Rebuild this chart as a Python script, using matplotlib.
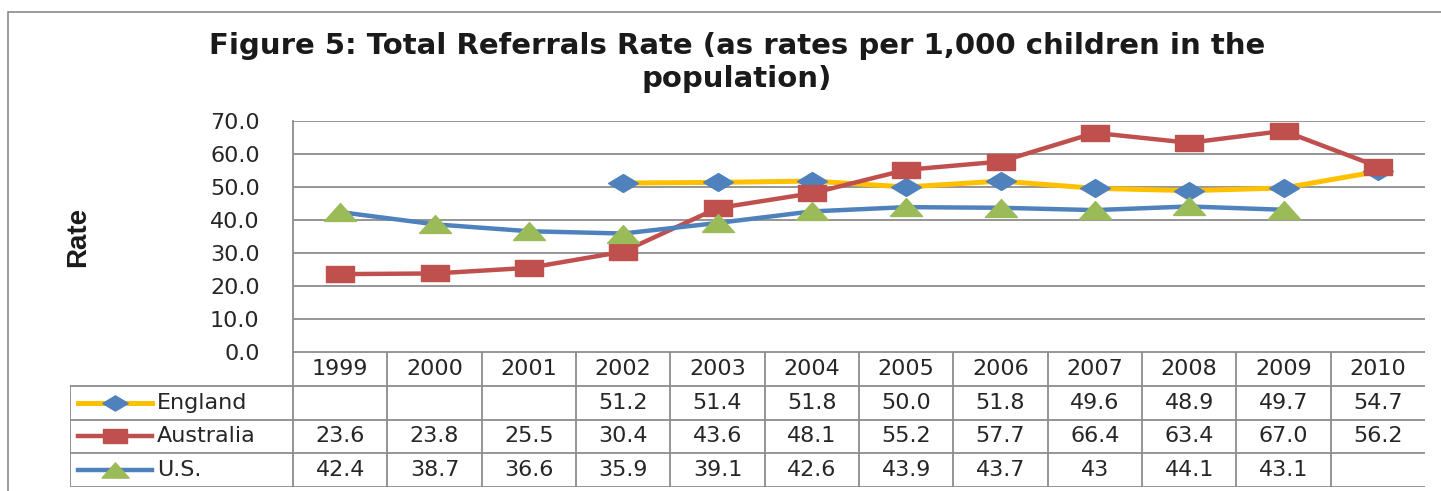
import matplotlib
matplotlib.use("Agg")
import matplotlib.pyplot as plt
import numpy as np

# ---- data ----
years = [1999, 2000, 2001, 2002, 2003, 2004, 2005, 2006, 2007, 2008, 2009, 2010]
england = [np.nan, np.nan, np.nan, 51.2, 51.4, 51.8, 50.0, 51.8, 49.6, 48.9, 49.7, 54.7]
australia = [23.6, 23.8, 25.5, 30.4, 43.6, 48.1, 55.2, 57.7, 66.4, 63.4, 67.0, 56.2]
us = [42.4, 38.7, 36.6, 35.9, 39.1, 42.6, 43.9, 43.7, 43, 44.1, 43.1, np.nan]
us_text = ["42.4", "38.7", "36.6", "35.9", "39.1", "42.6", "43.9", "43.7", "43", "44.1", "43.1", ""]
series_names = ["England", "Australia", "U.S."]
y_ticks = [0, 10, 20, 30, 40, 50, 60, 70]

# ---- layout (pixels of a 1441x491 canvas) ----
W, H = 1441, 491
PLOT_L, PLOT_R, PLOT_T, PLOT_B = 293, 1425, 121, 352
TABLE_L, TABLE_B = 70, 487
GRID = "#8c8c8c"
TEXT = "#262626"
FS = 16

# wide, flat markers like the stretched Excel picture
square = [(-1, -0.6), (1, -0.6), (1, 0.6), (-1, 0.6), (-1, -0.6)]
diamond = [(0, -0.6), (1, 0), (0, 0.6), (-1, 0), (0, -0.6)]
triangle = [(-1, -0.56), (1, -0.56), (0, 0.56), (-1, -0.56)]

styles = [
    dict(color="#FFC000", lw=3.6, marker=diamond, ms=21.5, mfc="#4F81BD", mec="#4F81BD"),
    dict(color="#C0504D", lw=3.2, marker=square, ms=20, mfc="#C0504D", mec="#C0504D"),
    dict(color="#4F81BD", lw=3.2, marker=triangle, ms=23, mfc="#9BBB59", mec="#9BBB59"),
]

fig = plt.figure(figsize=(W / 100, H / 100), dpi=100)

# outer chart frame (bottom/right run off the canvas)
fig.patches.append(plt.Rectangle((8 / W, -0.1), 1.2, (H - 12) / H + 0.1,
                                 transform=fig.transFigure, fill=False,
                                 edgecolor="#8a8a8a", lw=1.2))

fig.text(737 / W, 1 - 46 / H, "Figure 5: Total Referrals Rate (as rates per 1,000 children in the",
         ha="center", va="center", fontsize=21, fontweight="bold", color="#1a1a1a")
fig.text(737 / W, 1 - 79 / H, "population)",
         ha="center", va="center", fontsize=21, fontweight="bold", color="#1a1a1a")

ax = fig.add_axes([PLOT_L / W, 1 - PLOT_B / H, (PLOT_R - PLOT_L) / W, (PLOT_B - PLOT_T) / H])
x = np.arange(len(years))
for vals, st in zip([england, australia, us], styles):
    ax.plot(x, vals, solid_joinstyle="round", **st, clip_on=False, zorder=3)

ax.set_xlim(-0.5, len(years) - 0.5)
ax.set_ylim(0, 70)
ax.set_yticks(y_ticks)
ax.set_yticklabels([f"{v:.1f}" for v in y_ticks], fontsize=FS, color=TEXT)
ax.tick_params(axis="y", length=0, pad=24)
ax.set_xticks([])
for v in y_ticks:
    ax.axhline(v, color=GRID, lw=1.3, zorder=1)
for s in ["top", "right", "bottom"]:
    ax.spines[s].set_visible(False)
ax.spines["left"].set_color(GRID)
ax.spines["left"].set_linewidth(1.3)

fig.text(78 / W, 1 - 237 / H, "Rate", rotation=90, ha="center", va="center",
         fontsize=20, fontweight="bold", color="#1a1a1a",
         family=["Liberation Sans Narrow", "Liberation Sans", "DejaVu Sans"])

# ---- data table under the plot ----
px = (PLOT_R - PLOT_L) / len(years)          # pixels per category
left_x = -0.5 - (PLOT_L - TABLE_L) / px
tab = fig.add_axes([TABLE_L / W, 1 - TABLE_B / H, (PLOT_R - TABLE_L) / W, (TABLE_B - PLOT_B) / H])
tab.set_xlim(left_x, len(years) - 0.5)
tab.set_ylim(0, 4)
tab.axis("off")

for yy in [0, 1, 2, 3]:
    tab.plot([left_x, len(years) - 0.5], [yy, yy], color=GRID, lw=1.3)
tab.plot([-0.5, len(years) - 0.5], [4, 4], color=GRID, lw=1.3)
tab.plot([left_x, left_x], [0, 3], color=GRID, lw=1.3)
for k in range(len(years)):
    tab.plot([k - 0.5, k - 0.5], [0, 4], color=GRID, lw=1.3)

for i, yr in enumerate(years):
    tab.text(i, 3.5, str(yr), ha="center", va="center", fontsize=FS, color=TEXT)

rows = [
    [("" if np.isnan(v) else f"{v:.1f}") for v in england],
    [f"{v:.1f}" for v in australia],
    us_text,
]
line_x0 = -0.5 - (PLOT_L - 78) / px
line_x1 = -0.5 - (PLOT_L - 152) / px
mark_x = -0.5 - (PLOT_L - 115) / px
name_x = -0.5 - (PLOT_L - 157) / px
for r, (name, cells, st) in enumerate(zip(series_names, rows, styles)):
    yc = 2.5 - r
    tab.plot([line_x0, line_x1], [yc, yc], color=st["color"], lw=st["lw"])
    tab.plot([mark_x], [yc], ls="none", marker=st["marker"], ms=st["ms"] * 0.85,
             mfc=st["mfc"], mec=st["mec"])
    tab.text(name_x, yc, name, ha="left", va="center", fontsize=FS, color=TEXT)
    for i, c in enumerate(cells):
        tab.text(i, yc, c, ha="center", va="center", fontsize=FS, color=TEXT)

fig.savefig("out.png", dpi=100)
